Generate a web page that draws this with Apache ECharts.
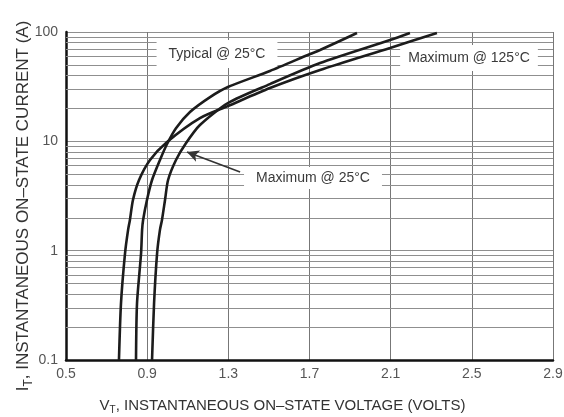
<!DOCTYPE html>
<html>
<head>
<meta charset="utf-8">
<script src="https://cdn.jsdelivr.net/npm/echarts@6/dist/echarts.min.js"></script>
<style>
  html, body { margin: 0; padding: 0; background: #fff; }
  #chart { width: 564px; height: 417px; }
</style>
</head>
<body>
<div id="chart"></div>
<script>
// on-state voltage (V) vs current (A)
const typical25 = [
  [0.845, 0.1], [0.850, 0.33], [0.870, 0.95], [0.875, 1.55], [0.880, 1.91],
  [0.899, 2.91], [0.924, 4.43], [0.963, 6.75], [0.998, 9.45], [1.042, 13.2],
  [1.111, 18.55], [1.210, 25.4], [1.298, 31.4], [1.505, 44.0], [1.703, 62.9],
  [1.752, 68.4], [1.934, 98]
];
const max125 = [
  [0.761, 0.1], [0.771, 0.33], [0.791, 0.95], [0.806, 1.55], [0.815, 1.91],
  [0.830, 2.91], [0.860, 4.43], [0.914, 6.75], [0.998, 9.86], [1.160, 16.3],
  [1.298, 21.0], [1.505, 30.7], [1.752, 44.9], [2.097, 71.4], [2.328, 98]
];
const max25 = [
  [0.924, 0.1], [0.934, 0.33], [0.949, 0.95], [0.963, 1.55], [0.973, 1.91],
  [0.988, 2.91], [1.003, 4.43], [1.042, 6.75], [1.091, 9.6],
  [1.160, 14.1], [1.298, 22.4], [1.505, 33.4], [1.752, 52.0], [2.097, 84.5],
  [2.195, 98]
];

const xTicks = [0.5, 0.9, 1.3, 1.7, 2.1, 2.5, 2.9];
const yTicks = [0.1, 1, 10, 100];
const yMinorTicks = [
  0.2, 0.3, 0.4, 0.5, 0.6, 0.7, 0.8, 0.9,
  2, 3, 4, 5, 6, 7, 8, 9,
  20, 30, 40, 50, 60, 70, 80, 90
];
// arrow for the "Maximum @ 25°C" callout: [from, to]
const arrowFrom = [1.358, 5.24];
const arrowTo = [1.096, 7.99];

const FONT = "'Liberation Sans Narrow', 'Arial Narrow', 'Liberation Sans', sans-serif";
const GRID = '#8f8f8f';
const INK = '#1c1c1c';

const chart = echarts.init(document.getElementById('chart'));

const curve = (name, data) => ({
  name,
  type: 'line',
  data,
  showSymbol: false,
  smooth: 0.25,
  z: 20,
  lineStyle: { color: INK, width: 2.6 },
});

const nameRich = (size) => ({
  v: { fontFamily: FONT, fontSize: size, color: '#333' },
  sub: { fontFamily: FONT, fontSize: size - 5, color: '#333', verticalAlign: 'top', padding: [size - 6, 0, 0, 0] },
});

chart.setOption({
  animation: false,
  backgroundColor: '#fff',
  grid: { left: 66, right: 11, top: 32, bottom: 57, outerBoundsMode: 'none' },
  xAxis: {
    type: 'value',
    min: xTicks[0],
    max: xTicks[xTicks.length - 1],
    interval: 0.4,
    name: '{v|V}{sub|T}{v|, INSTANTANEOUS ON–STATE VOLTAGE (VOLTS)}',
    nameLocation: 'middle',
    nameGap: 36,
    nameTextStyle: { rich: nameRich(15), padding: [0, 54, 0, 0] },
    axisLine: { lineStyle: { color: '#111', width: 2.5 } },
    axisTick: { show: false },
    axisLabel: {
      margin: 7,
      fontFamily: FONT,
      fontSize: 14,
      color: '#555',
      formatter: (v) => v.toFixed(1),
    },
    splitLine: { show: true, lineStyle: { color: '#777', width: 1 } },
  },
  yAxis: {
    type: 'log',
    logBase: 10,
    min: yTicks[0],
    max: yTicks[yTicks.length - 1],
    name: '{v|I}{sub|T}{v|, INSTANTANEOUS ON–STATE CURRENT (A)}',
    nameLocation: 'middle',
    nameRotate: 90,
    nameGap: 31,
    nameMoveOverlap: false,
    nameTextStyle: { rich: nameRich(17), padding: [0, 20, 0, 0] },
    axisLine: { show: true, lineStyle: { color: '#111', width: 2.5 } },
    axisTick: { show: false },
    axisLabel: {
      margin: 8,
      fontFamily: FONT,
      fontSize: 14,
      color: '#555',
      formatter: (v) => String(+v.toPrecision(3)),
    },
    splitLine: { show: true, lineStyle: { color: GRID, width: 1 } },
  },
  series: [
    {
      name: 'minor grid',
      type: 'line',
      data: [],
      z: 1,
      silent: true,
      markLine: {
        silent: true,
        symbol: 'none',
        label: { show: false },
        lineStyle: { color: GRID, width: 1, type: 'solid' },
        data: yMinorTicks.map((v) => ({ yAxis: v })),
      },
    },
    curve('Typical @ 25°C', typical25),
    curve('Maximum @ 125°C', max125),
    curve('Maximum @ 25°C', max25),
    {
      name: 'arrow',
      type: 'line',
      data: [],
      z: 21,
      markLine: {
        silent: true,
        symbol: ['none', 'arrow'],
        symbolSize: [9, 12],
        label: { show: false },
        lineStyle: { color: '#333', width: 1.6, type: 'solid' },
        data: [[{ coord: arrowFrom }, { coord: arrowTo }]],
      },
    },
  ],
  graphic: [
    {
      type: 'text', x: 217, y: 54, z: 10,
      style: {
        text: 'Typical @ 25°C', font: '14px ' + FONT, fill: '#3a3a3a',
        align: 'center', verticalAlign: 'middle',
        backgroundColor: '#fff', padding: [7, 12],
      },
    },
    {
      type: 'text', x: 469, y: 58, z: 10,
      style: {
        text: 'Maximum @ 125°C', font: '14px ' + FONT, fill: '#3a3a3a',
        align: 'center', verticalAlign: 'middle',
        backgroundColor: '#fff', padding: [6, 8],
      },
    },
    {
      type: 'text', x: 313, y: 178, z: 10,
      style: {
        text: 'Maximum @ 25°C', font: '14px ' + FONT, fill: '#3a3a3a',
        align: 'center', verticalAlign: 'middle',
        backgroundColor: '#fff', padding: [4, 12],
      },
    },
  ],
});
</script>
</body>
</html>
